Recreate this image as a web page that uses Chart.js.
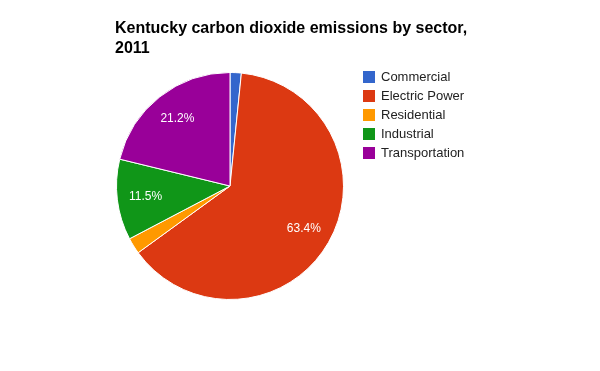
<!DOCTYPE html>
<html>
<head>
<meta charset="utf-8">
<script src="https://cdn.jsdelivr.net/npm/chart.js@4/dist/chart.umd.min.js"></script>
<style>
  html, body { margin: 0; padding: 0; background: #fff; }
  #wrap { position: relative; width: 600px; height: 371px; font-family: Arial, "Liberation Sans", sans-serif; }
  #titulo { position: absolute; left: 115px; top: 18px; font-size: 16px; font-weight: bold; line-height: 20px; color: #000; }
  #leyenda { position: absolute; left: 363px; top: 69px; }
  .fila { position: relative; height: 19px; font-size: 13px; line-height: 15px; color: #222; }
  .cuadro { position: absolute; left: 0; top: 2px; width: 12px; height: 12px; }
  .texto { position: absolute; left: 18px; top: 0; white-space: nowrap; }
  canvas { position: absolute; left: 0; top: 0; }
</style>
</head>
<body>
<div id="wrap">
  <canvas id="grafico" width="600" height="371"></canvas>
  <div id="titulo">Kentucky carbon dioxide emissions by sector,<br>2011</div>
  <div id="leyenda"></div>
</div>
<script>
const sectores = ['Commercial', 'Electric Power', 'Residential', 'Industrial', 'Transportation'];
const porcentajes = [1.6, 63.4, 2.3, 11.5, 21.2];
const colores = ['#3366cc', '#dc3912', '#ff9900', '#109618', '#990099'];

// leyenda en html
const leyenda = document.getElementById('leyenda');
sectores.forEach((nombre, i) => {
    const fila = document.createElement('div');
    fila.className = 'fila';
    fila.innerHTML = `<span class="cuadro" style="background:${colores[i]}"></span><span class="texto">${nombre}</span>`;
    leyenda.appendChild(fila);
});

// etiquetas de porcentaje dentro de cada porcion
const etiquetasPorcion = {
    id: 'etiquetasPorcion',
    afterDatasetsDraw(chart) {
        const ctx = chart.ctx;
        const datos = chart.data.datasets[0].data;
        const total = datos.reduce((a, b) => a + b, 0);
        chart.getDatasetMeta(0).data.forEach((arco, i) => {
            const pct = datos[i] / total * 100;
            if (pct < 5) return;
            const p = arco.getProps(['x', 'y', 'startAngle', 'endAngle', 'outerRadius'], true);
            const medio = (p.startAngle + p.endAngle) / 2;
            const r = p.outerRadius * 0.75;
            ctx.save();
            ctx.fillStyle = '#fff';
            ctx.font = '12px Arial, "Liberation Sans", sans-serif';
            ctx.textAlign = 'center';
            ctx.textBaseline = 'middle';
            ctx.fillText(pct.toFixed(1) + '%', p.x + Math.cos(medio) * r, p.y + Math.sin(medio) * r);
            ctx.restore();
        });
    }
};

new Chart(document.getElementById('grafico'), {
    type: 'pie',
    data: {
        labels: sectores,
        datasets: [{
            data: porcentajes,
            backgroundColor: colores,
            borderColor: '#fff',
            borderWidth: 1,
        }],
    },
    options: {
        responsive: false,
        animation: false,
        layout: { padding: { left: 116, top: 72, right: 256, bottom: 71 } },
        plugins: {
            legend: { display: false },
            title: { display: false },
            tooltip: { enabled: false },
        },
    },
    plugins: [etiquetasPorcion],
});
</script>
</body>
</html>
